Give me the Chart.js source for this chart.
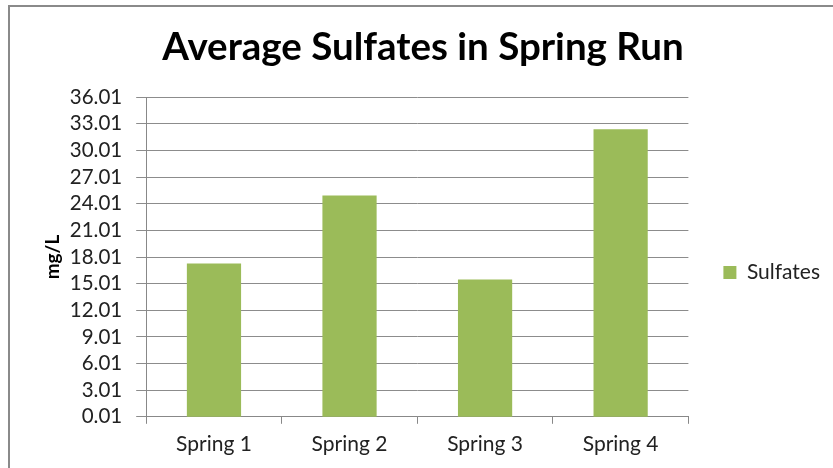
<!DOCTYPE html>
<html>
<head>
<meta charset="utf-8">
<script src="https://cdn.jsdelivr.net/npm/chart.js@4.4.1/dist/chart.umd.min.js"></script>
<style>
  html, body { margin: 0; padding: 0; background: #fff; }
  #wrap { position: relative; width: 833px; height: 468px; overflow: hidden; }
  #frame { position: absolute; left: 8px; top: 5px; width: 900px; height: 500px; border: 2px solid #8a8a8a; }
  #myChart { position: absolute; left: 0; top: 0; }
</style>
</head>
<body>
<div id="wrap">
  <div id="frame"></div>
  <canvas id="myChart" width="833" height="468"></canvas>
</div>
<script>
// chart data
const categories = ['Spring 1', 'Spring 2', 'Spring 3', 'Spring 4'];
const sulfates = [17.28, 24.95, 15.47, 32.40];
const yMin = 0.01;
const yMax = 36.01;
const yStep = 3;

const fontFamily = 'Lato, "Open Sans", sans-serif';
const barColor = '#9BBB59';

const ctx = document.getElementById('myChart').getContext('2d');

new Chart(ctx, {
  type: 'bar',
  data: {
    labels: categories,
    datasets: [
      {
        label: 'Sulfates',
        data: sulfates,
        backgroundColor: barColor,
        borderColor: barColor,
        borderWidth: 0,
        categoryPercentage: 0.8,
        barPercentage: 0.5,
      }
    ],
  },
  options: {
    responsive: false,
    animation: false,
    layout: {
      padding: { left: 16, right: 3, bottom: 3, top: 0 }
    },
    plugins: {
      title: {
        display: true,
        text: 'Average Sulfates in Spring Run',
        color: '#000',
        font: { family: fontFamily, size: 38.5, weight: 'bold' },
        padding: { top: 24, bottom: 27 }
      },
      legend: {
        position: 'right',
        // empty legend title only pushes the single entry down a bit
        title: {
          display: true,
          text: '',
          font: { size: 10 },
          padding: { top: 68, bottom: 0 }
        },
        labels: {
          boxWidth: 13,
          boxHeight: 13,
          color: '#222',
          font: { family: fontFamily, size: 21 },
          padding: 35
        }
      },
      tooltip: { enabled: false }
    },
    scales: {
      x: {
        grid: {
          offset: true,
          drawOnChartArea: false,
          color: '#888',
          tickLength: 7
        },
        border: { color: '#888' },
        ticks: {
          color: '#222',
          font: { family: fontFamily, size: 21 },
          padding: 8
        }
      },
      y: {
        min: yMin,
        max: yMax,
        ticks: {
          stepSize: yStep,
          autoSkip: false,
          color: '#222',
          font: { family: fontFamily, size: 20.5 },
          padding: 14,
          callback: (v) => Number(v).toFixed(2)
        },
        grid: {
          color: '#8c8c8c',
          tickLength: 10
        },
        border: { color: '#888' },
        title: {
          display: true,
          text: 'mg/L',
          color: '#000',
          font: { family: fontFamily, size: 19, weight: 'bold' },
          padding: { top: 25, bottom: -8 }
        }
      }
    }
  }
});
</script>
</body>
</html>
